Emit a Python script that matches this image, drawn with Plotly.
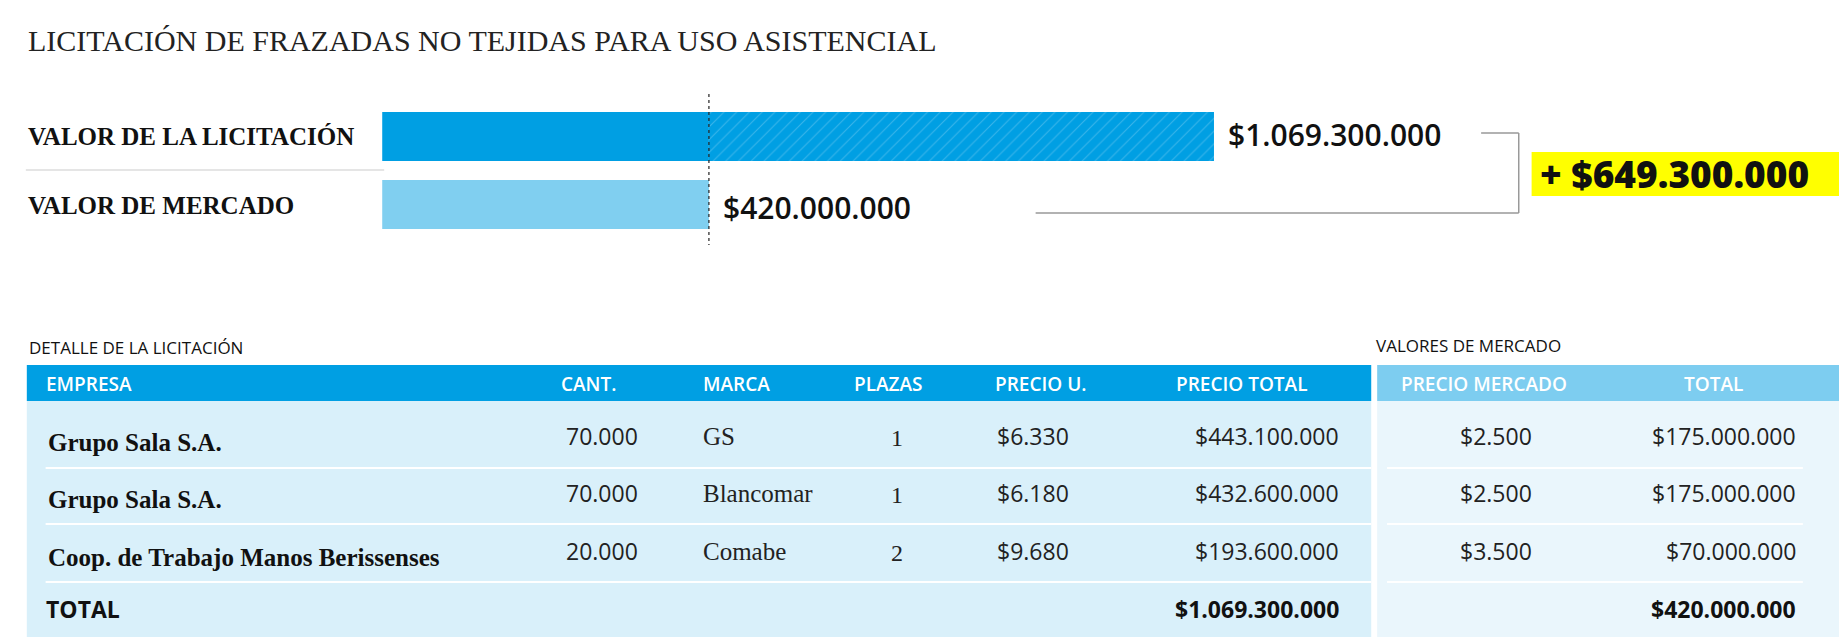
import plotly.graph_objects as go

W, H = 1847, 642

# data
bar_labels = ["VALOR DE LA LICITACIÓN", "VALOR DE MERCADO"]
licitacion = 1069300000
mercado = 420000000
diferencia = licitacion - mercado
value_text = ["$1.069.300.000", "$420.000.000"]
diff_text = "+ $649.300.000"

headers_left = ["EMPRESA", "CANT.", "MARCA", "PLAZAS", "PRECIO U.", "PRECIO TOTAL"]
headers_right = ["PRECIO MERCADO", "TOTAL"]
empresa = ["Grupo Sala S.A.", "Grupo Sala S.A.", "Coop. de Trabajo Manos Berissenses"]
cant = ["70.000", "70.000", "20.000"]
marca = ["GS", "Blancomar", "Comabe"]
plazas = ["1", "1", "2"]
precio_u = ["$6.330", "$6.180", "$9.680"]
precio_total = ["$443.100.000", "$432.600.000", "$193.600.000"]
precio_mercado = ["$2.500", "$2.500", "$3.500"]
total_mercado = ["$175.000.000", "$175.000.000", "$70.000.000"]
total_row = ["TOTAL", "$1.069.300.000", "$420.000.000"]

DARK = "#009FE3"
LIGHT = "#80CFF0"
SERIF = "Liberation Serif"
SANS = "Open Sans"


def px(x):
    return x * 0.99 / W


def py(y):
    return 1 - (y - 9) / H


fig = go.Figure()
# solid part (mercado value) for both rows, then hatched excess on licitacion
fig.add_trace(go.Bar(y=bar_labels, x=[mercado, mercado], orientation="h",
                     marker=dict(color=[DARK, LIGHT], line_width=0), width=0.72))
fig.add_trace(go.Bar(y=[bar_labels[0]], x=[diferencia], base=[mercado], orientation="h",
                     marker=dict(color=DARK, line_width=0,
                                 pattern=dict(shape="/", fgcolor="rgba(255,255,255,0.45)",
                                              size=9, solidity=0.12)),
                     width=0.72))

# value -> pixel: 0 at 378px, 420M at 708px (before the 0.99 factor)
scale = 330 * 0.99 / mercado
left = 378 * 0.99
x0 = -left / scale
x1 = (W - left) / scale

fig.update_layout(
    width=W, height=H, margin=dict(l=0, r=0, t=0, b=0),
    paper_bgcolor="white", plot_bgcolor="rgba(0,0,0,0)",
    barmode="overlay", showlegend=False,
    xaxis=dict(range=[x0, x1], visible=False, domain=[0, 1]),
    yaxis=dict(categoryorder="array", categoryarray=bar_labels, range=[1.5, -0.5],
               visible=False, domain=[py(239.5), py(103.5)]),
)

shapes = []
ann = []


def text(x, y, s, size, family=SANS, weight=400, color="#111", xanchor="left"):
    ann.append(dict(x=px(x), y=py(y), xref="paper", yref="paper", text=s, showarrow=False,
                    xanchor=xanchor, yanchor="middle",
                    font=dict(size=size, family=family, weight=weight, color=color)))


def rect(xa, ya, xb, yb, color):
    shapes.append(dict(type="rect", xref="paper", yref="paper", x0=px(xa), x1=px(xb),
                       y0=py(yb), y1=py(ya), fillcolor=color, line_width=0, layer="below"))


def line(xa, ya, xb, yb, color, width=1.5, dash="solid"):
    shapes.append(dict(type="line", xref="paper", yref="paper", x0=px(xa), x1=px(xb),
                       y0=py(ya), y1=py(yb), line=dict(color=color, width=width, dash=dash)))


# title
text(18, 41, "LICITACIÓN DE FRAZADAS NO TEJIDAS PARA USO ASISTENCIAL", 30, SERIF, 400, "#222")

# bar labels
text(18, 138, bar_labels[0], 25, SERIF, 700)
text(18, 206, bar_labels[1], 25, SERIF, 700)
line(18, 171, 380, 171, "#dddddd", 1.5)
text(1230, 136, value_text[0], 30, SANS, 600)
text(720, 208, value_text[1], 30, SANS, 600)
line(708, 95, 708, 246, "#222", 1.2, "dot")

# bracket
line(1488, 134, 1526, 134, "#999", 1.5)
line(1526, 134, 1526, 214, "#999", 1.5)
line(1038, 214, 1526, 214, "#999", 1.5)
rect(1539, 153, 1866, 197, "#FFFF00")
text(1545, 175, diff_text, 37, SANS, 800)

# tables
text(19, 349, "DETALLE DE LA LICITACIÓN", 17, SANS, 400)
text(1380, 347, "VALORES DE MERCADO", 17, SANS, 400)
rect(19, 366, 1377, 402, DARK)
rect(1383, 366, 1862, 402, "#7DCDF0")
rect(19, 402, 1377, 638, "#D9F0FA")
rect(1383, 402, 1862, 638, "#EAF6FC")

hx = [36, 557, 700, 853, 995, 1178]
for h, x in zip(headers_left, hx):
    text(x, 385, h, 19, SANS, 600, "white")
text(1405, 385, headers_right[0], 19, SANS, 600, "white")
text(1723, 385, headers_right[1], 19, SANS, 600, "white", "center")

row_y = [440, 497, 555]
for i, y in enumerate(row_y):
    text(38, y + 3, empresa[i], 25, SERIF, 700)
    text(562, y - 3, cant[i], 23, SANS, 400, "#222")
    text(700, y - 3, marca[i], 25, SERIF, 400, "#222")
    text(898, y - 1, plazas[i], 24, SERIF, 400, "#222", "center")
    text(997, y - 3, precio_u[i], 23, SANS, 400, "#222")
    text(1346, y - 3, precio_total[i], 23, SANS, 400, "#222", "right")
    text(1503, y - 3, precio_mercado[i], 23, SANS, 400, "#222", "center")
    text(1808, y - 3, total_mercado[i], 23, SANS, 400, "#222", "right")

for y in [469, 525, 583]:
    line(38, y, 1377, y, "white", 2)
    line(1393, y, 1813, y, "white", 2)

text(36, 610, total_row[0], 23, SANS, 700)
text(1346, 610, total_row[1], 23, SANS, 700, "#111", "right")
text(1808, 610, total_row[2], 23, SANS, 700, "#111", "right")

fig.update_layout(shapes=shapes, annotations=ann)
fig.write_html("out.html")
